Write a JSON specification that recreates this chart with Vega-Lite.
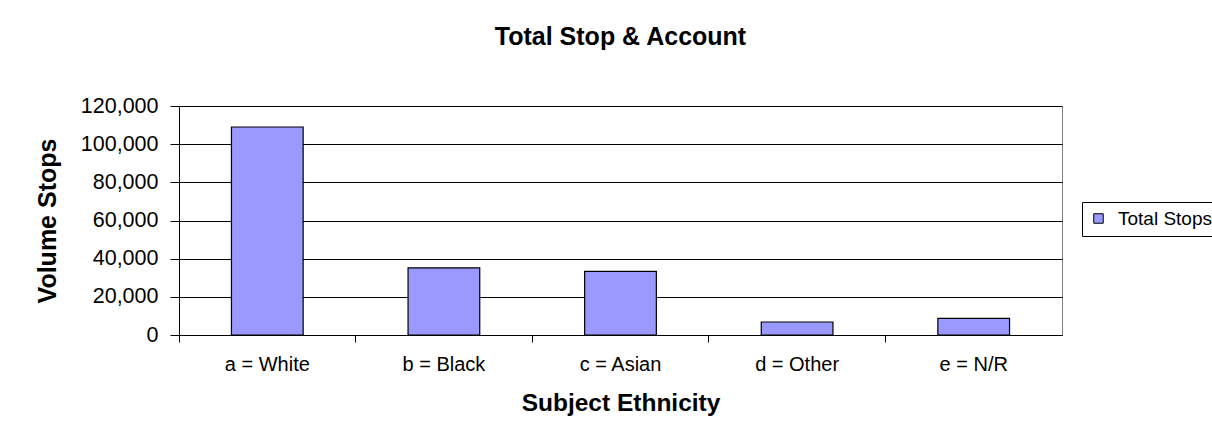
{
  "$schema": "https://vega.github.io/schema/vega-lite/v6.json",
  "autosize": "none",
  "width": 883,
  "height": 229,
  "padding": {"left": 179, "top": 106, "right": 150, "bottom": 110},
  "background": "white",
  "title": {
    "text": "Total Stop & Account",
    "font": "Liberation Sans",
    "fontSize": 25,
    "fontWeight": "bold",
    "color": "#000000",
    "anchor": "middle",
    "frame": "group",
    "offset": 45
  },
  "data": {
    "values": [
      {"ethnicity": "a = White", "stops": 109000, "series": "Total Stops"},
      {"ethnicity": "b = Black", "stops": 35200, "series": "Total Stops"},
      {"ethnicity": "c = Asian", "stops": 33300, "series": "Total Stops"},
      {"ethnicity": "d = Other", "stops": 6800, "series": "Total Stops"},
      {"ethnicity": "e = N/R", "stops": 8700, "series": "Total Stops"}
    ]
  },
  "mark": {"type": "bar", "stroke": "#000000", "strokeWidth": 1.2, "width": {"band": 0.406}},
  "encoding": {
    "x": {
      "field": "ethnicity",
      "type": "nominal",
      "sort": null,
      "scale": {"paddingInner": 0, "paddingOuter": 0},
      "axis": {
        "title": "Subject Ethnicity",
        "titleFont": "Liberation Sans",
        "titleFontSize": 24.5,
        "titleFontWeight": "bold",
        "titleColor": "#000000",
        "titlePadding": 17,
        "labelFont": "Liberation Sans",
        "labelFontSize": 20,
        "labelColor": "#000000",
        "labelAngle": 0,
        "labelPadding": 12,
        "tickSize": 7,
        "tickColor": "#000000",
        "bandPosition": 0,
        "domainColor": "#000000",
        "grid": false
      }
    },
    "y": {
      "field": "stops",
      "type": "quantitative",
      "scale": {"domain": [0, 120000], "nice": false},
      "axis": {
        "title": "Volume Stops",
        "titleFont": "Liberation Sans",
        "titleFontSize": 25,
        "titleFontWeight": "bold",
        "titleColor": "#000000",
        "titlePadding": 20,
        "values": [0, 20000, 40000, 60000, 80000, 100000, 120000],
        "format": ",.0f",
        "labelFont": "Liberation Sans",
        "labelFontSize": 21.5,
        "labelColor": "#000000",
        "labelPadding": 12,
        "tickSize": 9,
        "tickColor": "#000000",
        "domainColor": "#000000",
        "grid": true,
        "gridColor": "#000000",
        "gridOpacity": 1,
        "gridWidth": 1
      }
    },
    "color": {
      "field": "series",
      "type": "nominal",
      "scale": {"range": ["#9999FF"]},
      "legend": {
        "title": null,
        "orient": "none",
        "legendX": 903,
        "legendY": 96,
        "strokeColor": "#000000",
        "padding": 7,
        "symbolType": "square",
        "symbolSize": 90,
        "symbolStrokeColor": "#000000",
        "symbolStrokeWidth": 1,
        "symbolOpacity": 1,
        "labelFont": "Liberation Sans",
        "labelFontSize": 19,
        "labelColor": "#000000",
        "labelOffset": 10
      }
    }
  },
  "config": {
    "view": {"stroke": "#808080", "strokeWidth": 1}
  }
}
